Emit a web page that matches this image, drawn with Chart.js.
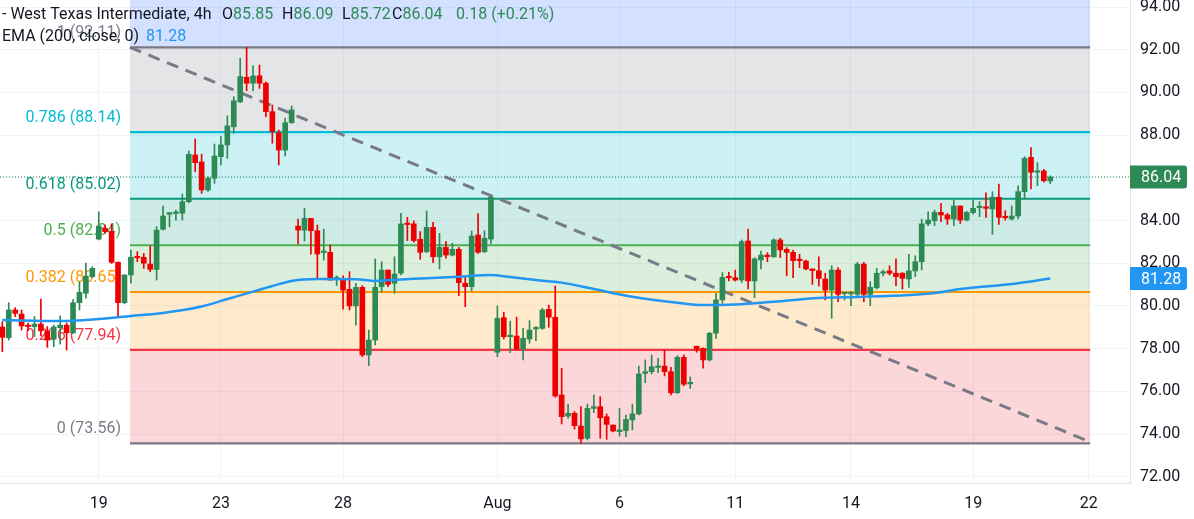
<!DOCTYPE html>
<html>
<head>
<meta charset="utf-8">
<script src="https://cdn.jsdelivr.net/npm/chart.js@4.4.1/dist/chart.umd.min.js"></script>
<style>
  html, body { margin: 0; padding: 0; background: #fff; }
  #wrap { width: 1194px; height: 519px; }
</style>
</head>
<body>
<div id="wrap"><canvas id="myChart" width="1194" height="519"></canvas></div>
<script>
// 4h candles
var opens = [79.01, 78.51, 79.81, 79.62, 79.06, 79.03, 79.15, 78.82, 78.44, 78.98,
  79.10, 78.74, 80.15, 80.59, 81.37, 83.13, 83.63, 83.48, 82.04, 80.15,
  81.45, 82.30, 82.28, 81.96, 81.71, 83.59, 84.29, 84.33, 84.34, 84.88,
  87.07, 86.74, 85.43, 85.98, 86.99, 87.54, 88.39, 89.56, 90.71, 90.43,
  90.78, 90.43, 89.10, 88.11, 87.30, 88.58, 83.74, 83.55, 84.10, 83.52,
  82.50, 82.51, 81.27, 81.29, 80.78, 80.00, 80.87, 77.70, 78.40, 80.90,
  81.68, 81.06, 81.53, 83.87, 83.84, 83.12, 82.54, 83.68, 82.30, 82.74,
  82.38, 82.65, 81.06, 80.90, 83.32, 82.54, 83.13, 77.83, 79.45, 78.56,
  78.59, 77.97, 78.45, 78.92, 78.95, 79.84, 79.47, 75.83, 74.84, 74.97,
  74.37, 73.80, 75.20, 75.28, 74.81, 74.42, 74.11, 74.16, 74.66, 74.94,
  76.84, 76.92, 77.12, 77.18, 76.92, 75.93, 77.59, 76.35, 78.11, 78.01,
  77.47, 78.72, 80.28, 81.36, 81.32, 81.21, 83.04, 81.17, 82.15, 82.38,
  82.30, 83.09, 82.65, 82.51, 82.17, 82.10, 81.73, 81.65, 81.26, 80.74,
  81.68, 80.57, 80.56, 80.54, 81.96, 80.54, 80.85, 81.53, 81.64, 81.53,
  81.53, 81.26, 81.64, 82.07, 83.84, 83.99, 84.38, 84.26, 84.07, 84.68,
  84.02, 84.37, 84.60, 84.60, 84.54, 85.09, 84.17, 84.07, 84.21, 85.35,
  86.96, 86.26, 86.32, 85.85];
var highs = [79.26, 80.15, 79.92, 79.81, 79.20, 79.50, 80.32, 79.03, 79.10, 79.53,
  79.20, 80.30, 81.13, 82.00, 81.84, 84.41, 83.79, 83.84, 82.07, 81.45,
  82.62, 82.54, 82.46, 82.80, 83.71, 84.68, 84.37, 84.49, 85.24, 87.26,
  87.82, 87.11, 86.05, 87.58, 87.93, 88.90, 89.80, 91.60, 92.11, 91.24,
  91.28, 90.50, 89.41, 88.24, 88.79, 89.36, 84.07, 84.57, 84.10, 83.79,
  83.60, 82.85, 81.41, 81.41, 81.60, 81.06, 80.95, 78.87, 82.20, 82.07,
  81.68, 82.30, 84.34, 84.15, 83.98, 83.48, 84.45, 83.92, 83.40, 83.01,
  82.93, 82.74, 81.34, 83.51, 84.33, 83.52, 85.12, 80.00, 79.70, 79.29,
  79.47, 78.95, 79.31, 79.03, 79.89, 80.04, 80.93, 77.08, 75.40, 75.05,
  75.28, 75.40, 75.83, 75.75, 74.94, 74.42, 75.20, 74.89, 75.40, 77.18,
  77.47, 77.70, 77.54, 77.93, 77.12, 77.67, 77.70, 76.68, 78.11, 78.04,
  78.76, 80.59, 81.56, 81.57, 81.68, 83.09, 83.60, 82.26, 82.57, 82.49,
  83.14, 83.17, 82.73, 82.62, 82.42, 82.15, 81.73, 82.30, 81.53, 81.88,
  81.79, 80.62, 80.67, 82.04, 82.04, 81.13, 81.76, 81.68, 81.88, 82.20,
  81.56, 82.42, 82.35, 84.06, 84.41, 84.49, 84.81, 84.34, 84.96, 84.68,
  84.43, 84.96, 84.88, 85.30, 85.35, 85.71, 84.46, 84.68, 85.62, 86.99,
  87.41, 86.71, 86.40, 86.09];
var lows = [77.85, 78.40, 79.50, 78.87, 78.84, 78.56, 78.59, 78.06, 78.09, 78.21,
  77.93, 78.70, 79.81, 80.36, 81.32, 83.09, 83.40, 81.99, 79.50, 80.10,
  81.06, 82.07, 81.76, 81.60, 81.21, 83.55, 83.71, 84.02, 84.02, 84.83,
  86.29, 85.27, 85.36, 85.74, 86.60, 86.91, 88.08, 89.52, 90.08, 90.08,
  90.19, 88.86, 87.62, 86.60, 87.02, 88.55, 82.89, 83.04, 82.42, 81.29,
  82.15, 81.21, 80.95, 79.85, 79.81, 79.10, 77.62, 77.20, 78.17, 80.64,
  80.90, 80.59, 81.45, 83.06, 82.98, 82.18, 82.49, 82.02, 81.73, 82.23,
  82.34, 80.48, 79.96, 80.70, 82.46, 82.49, 82.93, 77.62, 78.45, 77.81,
  77.97, 77.47, 78.25, 78.37, 78.90, 79.00, 75.72, 74.47, 74.73, 74.23,
  73.56, 73.72, 75.00, 73.80, 73.75, 74.10, 73.90, 73.87, 74.19, 74.89,
  76.40, 76.81, 76.87, 76.72, 75.83, 75.90, 76.26, 76.14, 77.83, 77.08,
  77.42, 78.48, 80.12, 81.17, 81.17, 81.10, 80.79, 80.38, 81.73, 82.07,
  82.27, 82.26, 81.41, 81.32, 81.79, 81.68, 81.01, 80.93, 80.28, 79.42,
  80.20, 80.28, 80.01, 80.48, 80.20, 80.01, 80.79, 81.41, 81.45, 80.95,
  80.79, 80.87, 81.37, 81.68, 83.76, 83.76, 83.95, 83.82, 83.76, 83.86,
  83.98, 84.30, 84.18, 84.15, 83.35, 83.82, 84.02, 84.02, 84.07, 84.99,
  85.48, 85.63, 85.79, 85.72];
var closes = [78.53, 79.81, 79.65, 79.06, 79.03, 79.15, 78.84, 78.40, 79.01, 79.10,
  78.74, 80.15, 80.64, 81.40, 81.76, 83.74, 83.48, 82.04, 80.15, 81.45,
  82.28, 82.25, 82.00, 81.71, 83.55, 84.21, 84.37, 84.37, 84.88, 87.10,
  86.71, 85.43, 85.98, 87.02, 87.54, 88.43, 89.61, 90.74, 90.43, 90.77,
  90.43, 89.10, 88.16, 87.30, 88.58, 89.18, 83.55, 84.10, 83.52, 82.43,
  82.52, 81.21, 81.29, 80.74, 80.00, 80.87, 77.70, 78.40, 80.87, 81.68,
  81.01, 81.49, 83.84, 83.81, 83.06, 82.51, 83.68, 82.30, 82.74, 82.38,
  82.65, 81.09, 80.90, 83.27, 82.51, 83.17, 85.09, 79.42, 78.56, 78.60,
  77.98, 78.48, 78.87, 78.97, 79.81, 79.47, 75.78, 74.81, 74.97, 74.39,
  73.77, 75.20, 75.28, 74.76, 74.45, 74.14, 74.19, 74.68, 74.94, 76.81,
  76.92, 77.15, 77.18, 76.92, 75.93, 77.59, 76.33, 76.37, 77.98, 77.47,
  78.72, 80.28, 81.34, 81.32, 81.21, 83.01, 81.17, 82.20, 82.38, 82.30,
  83.09, 82.62, 82.51, 82.12, 82.12, 81.73, 81.65, 81.29, 80.74, 81.68,
  80.54, 80.62, 80.60, 81.96, 80.54, 80.87, 81.53, 81.56, 81.53, 81.37,
  81.29, 81.64, 82.07, 83.84, 84.02, 84.38, 84.26, 84.07, 84.68, 84.02,
  84.38, 84.57, 84.62, 84.57, 85.09, 84.15, 84.13, 84.21, 85.35, 86.91,
  86.26, 86.32, 85.86, 86.04];

// EMA(200) read at a few candles
var emaIdx = [0, 9, 15, 20, 25, 31, 35, 39, 42, 45, 49, 55, 58, 62, 66, 71, 76, 79, 83, 87,
  92, 98, 105, 109, 114, 120, 127, 133, 141, 145, 149, 157, 163];
var emaVal = [79.34, 79.29, 79.39, 79.53, 79.67, 79.97, 80.32, 80.67, 80.93, 81.17, 81.26, 81.25, 81.17, 81.24, 81.29, 81.37, 81.45, 81.35, 81.21, 81.09,
  80.79, 80.43, 80.15, 80.04, 80.07, 80.20, 80.37, 80.42, 80.51, 80.60, 80.79, 81.03, 81.28];

// time axis: candle index of each day label
var dayTicks = [15, 34, 53, 77, 96, 114, 132, 151, 169];
var dayLabels = ['19', '23', '28', 'Aug', '6', '11', '14', '19', '22'];
var priceTicks = [72, 74, 76, 78, 80, 82, 84, 86, 88, 90, 92, 94];

// fibonacci retracement
var fibRatios = [1, 0.786, 0.618, 0.5, 0.382, 0.236, 0];
var fibPrices = [92.11, 88.14, 85.02, 82.84, 80.65, 77.94, 73.56];
var fibFrom = 19.86, fibTo = 169.2;

// dashed trend line
var trendX = [19.86, 169.2];
var trendY = [92.11, 73.63];

var xMin = -0.36, xMax = 175.4;
var yMin = 71.705, yMax = 94.328;

var up = '#2e8a55', down = '#ee0000';
var fibLine = ['#787b86', '#00bcd4', '#089981', '#4caf50', '#ff9800', '#f23645', '#787b86'];
var fibFill = ['rgba(41,98,255,0.2)', 'rgba(120,123,134,0.2)', 'rgba(0,188,212,0.2)', 'rgba(8,153,129,0.2)',
  'rgba(76,175,80,0.2)', 'rgba(255,152,0,0.2)', 'rgba(242,54,69,0.2)'];
var emaColor = '#2196f3';
var FONT = 'Roboto';
var FS = 16;

Chart.defaults.font.family = FONT;

var bodies = [], wicks = [], candleColors = [];
for (var i = 0; i < closes.length; i++) {
    bodies.push({ x: i, y: [Math.min(opens[i], closes[i]), Math.max(opens[i], closes[i])] });
    wicks.push({ x: i, y: [lows[i], highs[i]] });
    candleColors.push(closes[i] >= opens[i] ? up : down);
}

var datasets = [];
for (var f = 0; f < fibPrices.length; f++) {
    datasets.push({
        type: 'line',
        data: [{ x: fibFrom, y: fibPrices[f] }, { x: fibTo, y: fibPrices[f] }],
        borderColor: fibLine[f],
        borderWidth: 2.2,
        pointRadius: 0,
        backgroundColor: fibFill[f],
        fill: f === 0 ? 'end' : '-1',
        order: 10
    });
}

var last = closes.length - 1;
datasets.push({
    type: 'line',
    data: [{ x: xMin, y: closes[last] }, { x: xMax, y: closes[last] }],
    borderColor: up,
    borderWidth: 1,
    borderDash: [1, 2],
    pointRadius: 0,
    fill: false,
    order: 8
});
datasets.push({
    type: 'line',
    data: [{ x: trendX[0], y: trendY[0] }, { x: trendX[1], y: trendY[1] }],
    borderColor: '#787b86',
    borderWidth: 3,
    borderDash: [12, 8],
    pointRadius: 0,
    fill: false,
    order: 7
});
datasets.push({
    type: 'bar',
    data: wicks,
    backgroundColor: candleColors,
    barThickness: 1,
    grouped: false,
    minBarLength: 1,
    order: 5
});
datasets.push({
    type: 'bar',
    data: bodies,
    backgroundColor: candleColors,
    barThickness: 5,
    grouped: false,
    minBarLength: 1.5,
    order: 4
});
var emaPoints = [];
for (var e = 0; e < emaIdx.length; e++) emaPoints.push({ x: emaIdx[e], y: emaVal[e] });
datasets.push({
    type: 'line',
    data: emaPoints,
    borderColor: emaColor,
    borderWidth: 2.5,
    pointRadius: 0,
    cubicInterpolationMode: 'monotone',
    fill: false,
    order: 1
});

function drawRuns(ctx, runs, x, y) {
    runs.forEach(function (r) {
        if (r.at !== undefined) { x = r.at; return; }
        ctx.fillStyle = r.color;
        ctx.fillText(r.text, x, y);
        x += ctx.measureText(r.text).width;
    });
}

function priceBox(chart, value, color) {
    var ctx = chart.ctx;
    var y = chart.scales.y.getPixelForValue(value);
    var left = chart.chartArea.right, w = 57, h = 23;
    ctx.fillStyle = color;
    ctx.beginPath();
    ctx.roundRect(left, y - h / 2, w, h, [0, 3, 3, 0]);
    ctx.fill();
    ctx.fillStyle = '#ffffff';
    ctx.textAlign = 'left';
    ctx.textBaseline = 'middle';
    ctx.fillText(value.toFixed(2), left + 11, y + 1);
}

var overlay = {
    id: 'overlay',
    afterDatasetDraw: function (chart, args) {
        if (args.index !== fibPrices.length - 1) return;
        var ctx = chart.ctx, ys = chart.scales.y;
        ctx.save();
        ctx.font = FS + 'px ' + FONT;
        ctx.textAlign = 'right';
        ctx.textBaseline = 'middle';
        for (var k = 0; k < fibPrices.length; k++) {
            ctx.fillStyle = fibLine[k];
            ctx.fillText(fibRatios[k] + ' (' + fibPrices[k].toFixed(2) + ')', 121, ys.getPixelForValue(fibPrices[k]) - 14);
        }
        ctx.restore();
    },
    afterDraw: function (chart) {
        var ctx = chart.ctx;
        ctx.save();
        ctx.font = FS + 'px ' + FONT;
        ctx.textAlign = 'left';
        ctx.textBaseline = 'middle';
        var ink = '#131722';
        var chg = closes[last] - closes[last - 1];
        var pct = chg / closes[last - 1] * 100;
        drawRuns(ctx, [
            { text: '- West Texas Intermediate, 4h', color: ink },
            { at: 222 },
            { text: 'O', color: ink }, { text: opens[last].toFixed(2), color: up },
            { at: 282 },
            { text: 'H', color: ink }, { text: highs[last].toFixed(2), color: up },
            { at: 342 },
            { text: 'L', color: ink }, { text: lows[last].toFixed(2), color: up },
            { at: 392 },
            { text: 'C', color: ink }, { text: closes[last].toFixed(2), color: up },
            { at: 456 },
            { text: chg.toFixed(2) + ' (+' + pct.toFixed(2) + '%)', color: up }
        ], 2, 15);
        drawRuns(ctx, [
            { text: 'EMA (200, close, 0)', color: ink },
            { at: 146 },
            { text: emaVal[emaVal.length - 1].toFixed(2), color: emaColor }
        ], 2, 37);
        priceBox(chart, closes[last], up);
        priceBox(chart, emaVal[emaVal.length - 1], emaColor);
        ctx.restore();
    }
};

var ctx = document.getElementById('myChart').getContext('2d');
var myChart = new Chart(ctx, {
    type: 'bar',
    data: { datasets: datasets },
    options: {
        responsive: false,
        animation: false,
        layout: { padding: 0 },
        plugins: { legend: { display: false }, tooltip: { enabled: false } },
        scales: {
            x: {
                type: 'linear',
                min: xMin,
                max: xMax,
                offset: false,
                grid: { color: '#f0f3fa', offset: false, drawTicks: false },
                border: { color: '#e0e3eb' },
                afterBuildTicks: function (scale) {
                    scale.ticks = dayTicks.map(function (v) { return { value: v }; });
                },
                afterFit: function (scale) {
                    scale.height = 36;
                    scale.paddingLeft = 0;
                    scale.paddingRight = 0;
                },
                ticks: {
                    autoSkip: false,
                    maxRotation: 0,
                    padding: 11,
                    color: '#131722',
                    font: { size: FS },
                    callback: function (value) { return dayLabels[dayTicks.indexOf(value)]; }
                }
            },
            y: {
                type: 'linear',
                position: 'right',
                min: yMin,
                max: yMax,
                beginAtZero: false,
                grid: { color: '#f0f3fa', drawTicks: false },
                border: { color: '#e0e3eb' },
                afterBuildTicks: function (scale) {
                    scale.ticks = priceTicks.map(function (v) { return { value: v }; });
                },
                afterFit: function (scale) {
                    scale.width = 64;
                    scale.paddingTop = 0;
                    scale.paddingBottom = 0;
                },
                ticks: {
                    autoSkip: false,
                    padding: 10,
                    color: '#131722',
                    font: { size: FS },
                    callback: function (value) { return value.toFixed(2); }
                }
            }
        }
    },
    plugins: [overlay]
});
</script>
</body>
</html>
